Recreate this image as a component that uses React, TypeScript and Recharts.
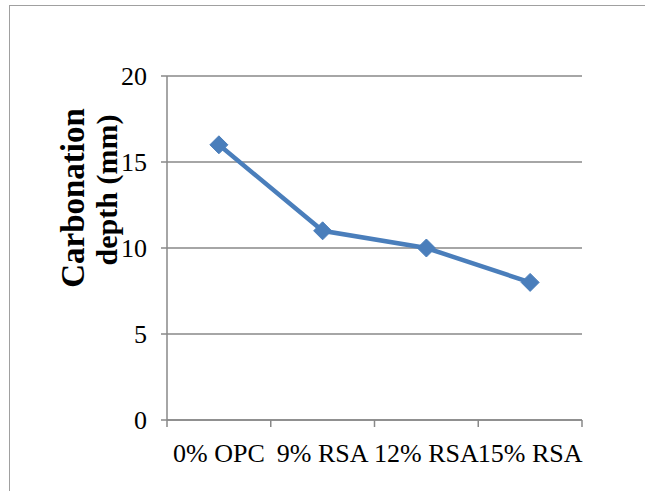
import React from "react";
import { LineChart, Line, XAxis, YAxis, CartesianGrid } from "recharts";

const categories = ["0% OPC", "9% RSA", "12% RSA", "15% RSA"];
const depthValues = [16, 11, 10, 8];
const yTicks = [0, 5, 10, 15, 20];
const boundaryTicks = [0, 1, 2, 3, 4];

const data = categories.map((name, i) => ({ pos: i + 0.5, name, value: depthValues[i] }));
const xTicks = [...boundaryTicks, ...data.map((d) => d.pos)].sort((a, b) => a - b);

const FONT = "Liberation Serif";
const GRAY = "#888888";
const BLUE = "#4A7EBB";

const XTick = (props: any) => {
  const { x, y, payload } = props;
  const v = payload.value;
  if (Number.isInteger(v)) {
    return <line x1={x} y1={y} x2={x} y2={y + 7} stroke={GRAY} strokeWidth={1.5} />;
  }
  const idx = Math.floor(v);
  return (
    <text x={x} y={y + 42} textAnchor="middle" style={{ fontFamily: FONT, fontSize: 26 }} fill="#000">
      {categories[idx]}
    </text>
  );
};

const YTick = (props: any) => {
  const { x, y, payload } = props;
  return (
    <text x={x} y={y + 9} textAnchor="end" style={{ fontFamily: FONT, fontSize: 26 }} fill="#000">
      {payload.value}
    </text>
  );
};

const Diamond = (props: any) => {
  const { cx, cy } = props;
  if (cx == null || cy == null) return null;
  const r = 9;
  return (
    <path
      d={`M${cx},${cy - r} L${cx + r},${cy} L${cx},${cy + r} L${cx - r},${cy} Z`}
      fill={BLUE}
      stroke={BLUE}
      strokeWidth={1}
    />
  );
};

const YLabel = (props: any) => {
  const { viewBox } = props;
  const mid = viewBox.y + viewBox.height / 2;
  const c1 = mid - 50;
  const c2 = mid - 58;
  return (
    <g>
      <text
        x={84}
        y={c1}
        transform={`rotate(-90, 84, ${c1})`}
        textAnchor="middle"
        style={{ fontFamily: FONT, fontWeight: "bold", fontSize: 33 }}
        fill="#000"
      >
        Carbonation
      </text>
      <text
        x={117}
        y={c2}
        transform={`rotate(-90, 117, ${c2})`}
        textAnchor="middle"
        style={{ fontFamily: FONT, fontWeight: "bold", fontSize: 30 }}
        fill="#000"
      >
        depth (mm)
      </text>
    </g>
  );
};

export default function App() {
  return (
    <div style={{ position: "absolute", left: 0, top: 0, width: 645, height: 491, background: "#fff", overflow: "hidden" }}>
      <div
        style={{
          position: "absolute",
          left: 9,
          top: 5,
          width: 660,
          height: 520,
          border: "1.5px solid #a0a0a0",
          boxSizing: "border-box",
        }}
      />
      <div style={{ position: "absolute", left: 0, top: 0 }}>
        <LineChart width={645} height={491} data={data} margin={{ top: 76, right: 63, left: 0, bottom: 0 }}>
          <CartesianGrid horizontal vertical={false} stroke={GRAY} strokeWidth={1.5} />
          <XAxis
            dataKey="pos"
            type="number"
            domain={[0, 4]}
            ticks={xTicks}
            interval={0}
            height={71}
            tickLine={false}
            tickSize={0}
            tickMargin={0}
            axisLine={{ stroke: GRAY, strokeWidth: 1.5 }}
            tick={<XTick />}
          />
          <YAxis
            type="number"
            domain={[0, 20]}
            ticks={yTicks}
            interval={0}
            width={167}
            tickSize={6}
            tickMargin={14}
            tickLine={{ stroke: GRAY, strokeWidth: 1.5 }}
            axisLine={{ stroke: GRAY, strokeWidth: 1.5 }}
            tick={<YTick />}
            label={<YLabel />}
          />
          <Line
            dataKey="value"
            stroke={BLUE}
            strokeWidth={4.5}
            dot={<Diamond />}
            activeDot={false}
            isAnimationActive={false}
          />
        </LineChart>
      </div>
    </div>
  );
}
